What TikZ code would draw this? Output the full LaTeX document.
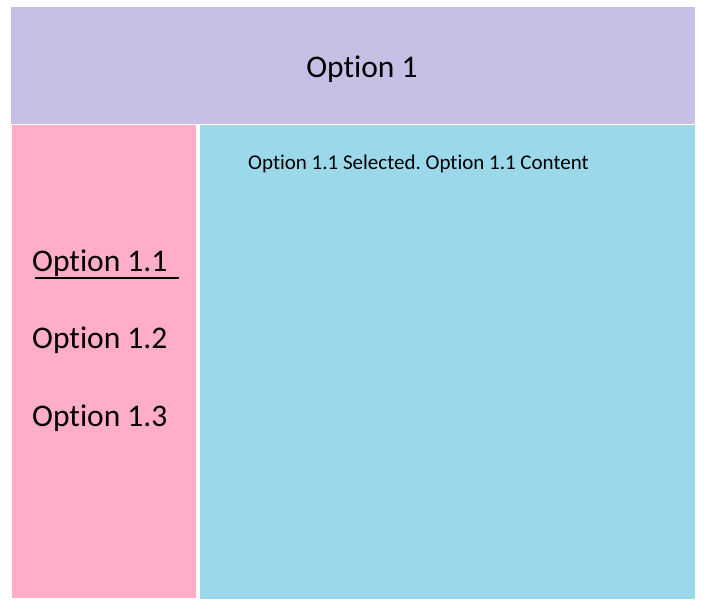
\documentclass[tikz,border=0pt]{standalone}
\usepackage{fontspec}
\setmainfont{Carlito}[Ligatures={NoCommon}]
\usepackage{tikz}
\usetikzlibrary{calc}
\usetikzlibrary{positioning}
\frenchspacing
\definecolor{menupurple}{RGB}{200,191,230}
\definecolor{menupink}{RGB}{255,173,201}
\definecolor{menublue}{RGB}{155,216,234}
\tikzset{
  panel/.style = {rectangle, draw=none, anchor=north west, inner sep=0pt},
  bigopt/.style = {inner sep=0pt, font=\fontsize{31.5}{37}\selectfont},
  smallopt/.style = {inner sep=0pt, font=\fontsize{21}{25}\selectfont},% texte du contenu
}
\begin{document}
\begin{tikzpicture}[x=1pt,y=-1pt]
\useasboundingbox (0,0) rectangle (714,614);
% les trois panneaux
\node [panel, fill=menupurple, minimum width=684pt, minimum height=117pt] (top) at (11,7) {};
\node [panel, fill=menupink, minimum width=184pt, minimum height=473pt] (side) at (12,125) {};
\node [panel, fill=menublue, minimum width=495pt, minimum height=474pt] (content) at (200,125) {};
% textes
\node [bigopt, anchor=base] (opt1) at (362,77) {Option 1};
\node [bigopt, anchor=base west] (opt11) at (32,271) {Option 1.1};
\node [bigopt, anchor=base west] (opt12) at (32,348) {Option 1.2};
\node [bigopt, anchor=base west] (opt13) at (32,426) {Option 1.3};
\node [smallopt, anchor=base west] (text11) at (248,169) {Option 1.1 Selected. Option 1.1 Content};
% soulignement de l'option choisie
\draw [line width=2.2pt] ($(opt11.base west)+(3,7)$) -- ($(opt11.base west)+(147,7)$);
\end{tikzpicture}
\end{document}
